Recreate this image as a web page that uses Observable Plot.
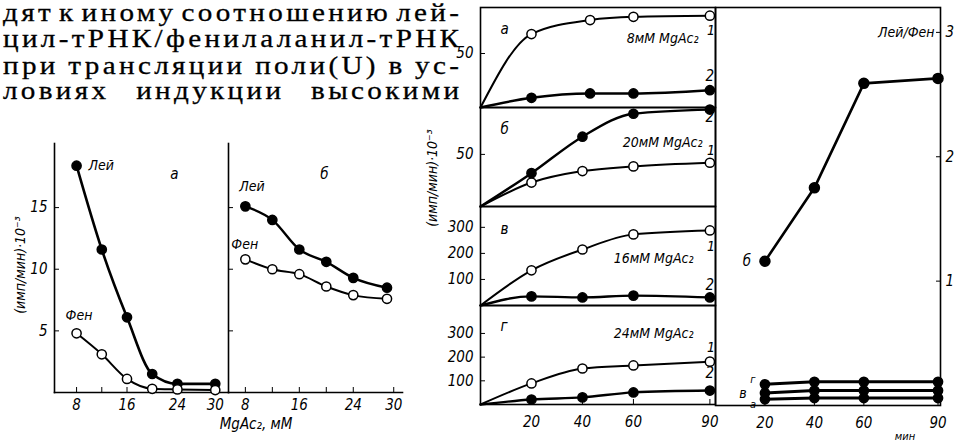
<!DOCTYPE html>
<html><head><meta charset="utf-8">
<script src="https://cdn.jsdelivr.net/npm/d3@7"></script>
<script src="https://cdn.jsdelivr.net/npm/@observablehq/plot@0.6"></script>
<style>
html,body{margin:0;padding:0;background:#fff;}
#fig{position:relative;width:956px;height:441px;overflow:hidden;background:#fff;}
.tl{position:absolute;left:3px;font-family:"Liberation Serif","Times New Roman",serif;font-size:26px;line-height:26px;white-space:nowrap;color:#000;transform-origin:0 0;transform:scaleX(1.12);-webkit-text-stroke:0.3px #000;}
.lab{position:absolute;font-family:"DejaVu Sans Condensed","Liberation Sans",sans-serif;font-style:italic;color:#000;white-space:nowrap;}
</style></head><body>
<div id="fig">
  <div class="tl" id="l0" style="top:0px">дят к иному соотношению лей-</div>
  <div class="tl" id="l1" style="top:26px">цил-тРНК/фенилаланил-тРНК</div>
  <div class="tl" id="l2" style="top:53px">при трансляции поли(U) в ус-</div>
  <div class="tl" id="l3" style="top:78px">ловиях индукции высокими</div>
  <div class="lab" id="ylab1" style="font-size:14px;left:20px;top:265px;transform:translate(-50%,-50%) rotate(-90deg)">(имп/мин)·10⁻³</div>
  <div class="lab" id="xlab1" style="font-size:15px;left:256px;top:424px;transform:translate(-50%,-50%)">MgAc₂, мМ</div>
  <div class="lab" id="ylab2" style="font-size:14px;left:432px;top:178px;transform:translate(-50%,-50%) rotate(-90deg)">(имп/мин)·10⁻³</div>
  <div class="lab" id="xlab3" style="font-size:11px;left:905px;top:436px;transform:translate(-50%,-50%)">мин</div>
</div>
<script>
// ---- Left figure: rate vs Mg concentration ----
const mgA = [8, 12, 16, 20, 24, 30];
const leiA = [18.4, 11.6, 6.1, 1.5, 0.7, 0.7];
const fenA = [4.8, 3.1, 1.1, 0.3, 0.25, 0.2];
const mgB = [8, 12, 16, 20, 24, 29];
const leiB = [15.1, 14.0, 11.6, 10.6, 9.3, 8.5];
const fenB = [10.8, 10.0, 9.6, 8.6, 7.9, 7.6];
const mgTickLabels = [8, 16, 24, 30];
const mgTickMarks = [8, 12, 16, 20, 24, 30];
const rateTicks = [5, 10, 15];

// ---- Center figure: time courses (curve 1 = open, curve 2 = filled) ----
const timeA = [0, 20, 43, 60, 90];
const a1 = [0, 68, 81, 84, 85];
const a2 = [0, 9, 13, 13, 16];
const timeB = [0, 20, 40, 60, 90];
const b1 = [0, 23, 34, 38.5, 42];
const b2 = [0, 32, 67, 89, 93];
const timeV = [0, 20, 40, 60, 90];
const v1 = [0, 135, 215, 273, 288];
const v2 = [0, 35, 31, 38, 31];
const timeG = [0, 20, 40, 60, 90];
const g1 = [0, 89, 152, 165, 181];
const g2 = [0, 21, 30, 51, 59];
const concLabels = ["8мМ MgAc₂", "20мМ MgAc₂", "16мМ MgAc₂", "24мМ MgAc₂"];
const panelLetters = ["а", "б", "в", "г"];
const minuteTicks = [20, 40, 60, 90];

// ---- Right figure: Лей/Фен ratio ----
const ratioMinutes = [20, 40, 60, 90];
const ratioB = [1.16, 1.75, 2.59, 2.63];
const ratioG = [0.17, 0.19, 0.19, 0.19];
const ratioV = [0.10, 0.12, 0.12, 0.12];
const ratioA = [0.05, 0.06, 0.06, 0.06];
const ratioTicks = [1, 2, 3];

const FONT = '"DejaVu Sans Condensed","Liberation Sans",sans-serif';
const fig = document.getElementById("fig");
const rows = (xs, ys) => xs.map((x, i) => ({x, y: ys[i]}));
const fmt = d => String(d);
const baseStyle = {fontFamily: FONT, fontSize: "15px", fontStyle: "italic", color: "#000", background: "transparent", overflow: "visible"};

function mount(plot, frameLeft, frameTop, mL, mT) {
  plot.style.position = "absolute";
  plot.style.left = (frameLeft - mL) + "px";
  plot.style.top = (frameTop - mT) + "px";
  plot.style.maxWidth = "none";
  fig.appendChild(plot);
}

const filled = (d, r = 4.6) => Plot.dot(d, {x: "x", y: "y", r, fill: "#000", stroke: "#000"});
const open = (d, r = 4.6) => Plot.dot(d, {x: "x", y: "y", r, fill: "#fff", stroke: "#000", strokeWidth: 1.5});

// Left panel а
{
  const fl = 54, fr = 228, ft = 143, fb = 392, mL = 40, mT = 10, mB = 34;
  const lei = rows(mgA, leiA), fen = rows(mgA, fenA);
  const p = Plot.plot({
    width: mL + (fr - fl), height: mT + (fb - ft) + mB,
    marginLeft: mL, marginRight: 0, marginTop: mT, marginBottom: mB,
    x: {domain: [4.5, 32.1]}, y: {domain: [0, 20.2]},
    style: baseStyle,
    marks: [
      Plot.frame({anchor: "left", strokeWidth: 1.6}),
      Plot.frame({anchor: "bottom", strokeWidth: 1.6}),
      Plot.axisY({ticks: rateTicks, tickSize: -5, tickPadding: 12, label: null, tickFormat: fmt}),
      Plot.axisX({ticks: mgTickMarks, tickSize: -5, tickPadding: 12, label: null, tickFormat: d => mgTickLabels.includes(d) ? String(d) : ""}),
      Plot.line(lei, {x: "x", y: "y", curve: "monotone-x", strokeWidth: 2.6}),
      Plot.line(fen, {x: "x", y: "y", curve: "monotone-x", strokeWidth: 2}),
      filled(lei), open(fen),
      Plot.text(lei.slice(0, 1), {x: "x", y: "y", text: () => "Лей", dx: 12, textAnchor: "start", fontSize: 14}),
      Plot.text(fen.slice(0, 1), {x: "x", y: "y", text: () => "Фен", dx: -11, dy: -18, textAnchor: "start", fontSize: 14}),
      Plot.text([panelLetters[0]], {frameAnchor: "top-right", text: d => d, dx: -50, dy: 25, fontSize: 15})
    ]
  });
  mount(p, fl, ft, mL, mT);
}
// Left panel б
{
  const fl = 228, fr = 402, ft = 143, fb = 392, mL = 10, mT = 10, mB = 34;
  const lei = rows(mgB, leiB), fen = rows(mgB, fenB);
  const p = Plot.plot({
    width: mL + (fr - fl), height: mT + (fb - ft) + mB,
    marginLeft: mL, marginRight: 0, marginTop: mT, marginBottom: mB,
    x: {domain: [5.5, 31.3]}, y: {domain: [0, 20.2]},
    style: baseStyle,
    marks: [
      Plot.frame({anchor: "left", strokeWidth: 1.6}),
      Plot.frame({anchor: "bottom", strokeWidth: 1.6}),
      Plot.axisY({ticks: rateTicks, tickSize: -5, tickFormat: () => "", label: null}),
      Plot.axisX({ticks: mgTickMarks, tickSize: -5, tickPadding: 12, label: null, tickFormat: d => mgTickLabels.includes(d) ? String(d) : ""}),
      Plot.line(lei, {x: "x", y: "y", curve: "monotone-x", strokeWidth: 2.4}),
      Plot.line(fen, {x: "x", y: "y", curve: "monotone-x", strokeWidth: 2}),
      filled(lei), open(fen),
      Plot.text(lei.slice(0, 1), {x: "x", y: "y", text: () => "Лей", dx: -6, dy: -20, textAnchor: "start", fontSize: 14}),
      Plot.text(fen.slice(0, 1), {x: "x", y: "y", text: () => "Фен", dx: -14, dy: -15, textAnchor: "start", fontSize: 14}),
      Plot.text([panelLetters[1]], {frameAnchor: "top-right", text: d => d, dx: -74, dy: 25, fontSize: 15})
    ]
  });
  mount(p, fl, ft, mL, mT);
}

// Center panels
const centerPanels = [
  {t: timeA, s1: a1, s2: a2, top: 7, bottom: 107, dom: [0, 92.6], ticks: [50], conc: concLabels[0], cdx: -17, cdy: 26, l1: 15, l2: -14, letterDy: 16},
  {t: timeB, s1: b1, s2: b2, top: 107, bottom: 206, dom: [0, 95], ticks: [50], conc: concLabels[1], cdx: -13, cdy: 30, l1: -12, l2: 8, letterDy: 16},
  {t: timeV, s1: v1, s2: v2, top: 206, bottom: 305, dom: [0, 380], ticks: [100, 200, 300], conc: concLabels[2], cdx: -22, cdy: 47, l1: 16, l2: -12, letterDy: 17},
  {t: timeG, s1: g1, s2: g2, top: 305, bottom: 404, dom: [0, 418], ticks: [100, 200, 300], conc: concLabels[3], cdx: -22, cdy: 23, l1: -14, l2: -17, letterDy: 15}
];
centerPanels.forEach((P, k) => {
  const fl = 480, fr = 715, mL = 48, mT = 2, last = k === 3, mB = last ? 30 : 2;
  const c1 = rows(P.t, P.s1), c2 = rows(P.t, P.s2);
  const p = Plot.plot({
    width: mL + (fr - fl) + 2, height: mT + (P.bottom - P.top) + mB,
    marginLeft: mL, marginRight: 2, marginTop: mT, marginBottom: mB,
    x: {domain: [0, 92.2], axis: null}, y: {domain: P.dom, axis: null},
    style: baseStyle,
    marks: [
      Plot.frame({strokeWidth: 1.6}),
      Plot.axisY({ticks: P.ticks, tickSize: -5, tickPadding: 12, label: null, tickFormat: fmt}),
      last ? Plot.axisX({ticks: minuteTicks, tickSize: -5, tickPadding: 17, label: null, tickFormat: fmt}) : null,
      Plot.line(c1, {x: "x", y: "y", curve: "monotone-x", strokeWidth: 2}),
      Plot.line(c2, {x: "x", y: "y", curve: "monotone-x", strokeWidth: 2.4}),
      open(c1.slice(1)), filled(c2.slice(1)),
      Plot.text(c1.slice(-1), {x: "x", y: "y", text: () => "1", dx: 1, dy: P.l1, fontSize: 14}),
      Plot.text(c2.slice(-1), {x: "x", y: "y", text: () => "2", dx: 0, dy: P.l2, fontSize: 15}),
      Plot.text([P.conc], {frameAnchor: "top-right", text: d => d, dx: P.cdx, dy: P.cdy, textAnchor: "end", fontSize: 14}),
      Plot.text([panelLetters[k]], {frameAnchor: "top-left", text: d => d, dx: 20, dy: P.letterDy, fontSize: 15})
    ]
  });
  mount(p, fl, P.top, mL, mT);
});

// Right panel
{
  const fl = 715, fr = 940, ft = 7, fb = 405, mL = 2, mR = 16, mT = 2, mB = 30;
  const rb = rows(ratioMinutes, ratioB), rg = rows(ratioMinutes, ratioG), rv = rows(ratioMinutes, ratioV), ra = rows(ratioMinutes, ratioA);
  const p = Plot.plot({
    width: mL + (fr - fl) + mR, height: mT + (fb - ft) + mB,
    marginLeft: mL, marginRight: mR, marginTop: mT, marginBottom: mB,
    x: {domain: [0, 91]}, y: {domain: [0, 3.2]},
    style: baseStyle,
    marks: [
      Plot.frame({strokeWidth: 1.6}),
      Plot.axisY({anchor: "right", ticks: ratioTicks, tickSize: -5, tickPadding: 10, label: null, tickFormat: fmt}),
      Plot.axisX({ticks: minuteTicks, tickSize: -5, tickPadding: 17, label: null, tickFormat: fmt}),
      Plot.line(rb, {x: "x", y: "y", strokeWidth: 2.6}),
      Plot.line(rg, {x: "x", y: "y", strokeWidth: 3}),
      Plot.line(rv, {x: "x", y: "y", strokeWidth: 3}),
      Plot.line(ra, {x: "x", y: "y", strokeWidth: 3}),
      filled(rb, 5), filled(rg, 4.6), filled(rv, 4.6), filled(ra, 4.6),
      Plot.text(rb.slice(0, 1), {x: "x", y: "y", text: () => "б", dx: -18, dy: 0, fontSize: 15}),
      Plot.text(rv.slice(0, 1), {x: "x", y: "y", text: () => "в", dx: -22, dy: 0, fontSize: 14}),
      Plot.text(rg.slice(0, 1), {x: "x", y: "y", text: () => "г", dx: -12, dy: -5, fontSize: 11}),
      Plot.text(ra.slice(0, 1), {x: "x", y: "y", text: () => "а", dx: -12, dy: 5, fontSize: 11}),
      Plot.text(["Лей/Фен"], {frameAnchor: "top-right", text: d => d, dx: -6, dy: 20, textAnchor: "end", fontSize: 14})
    ]
  });
  mount(p, fl, ft, mL, mT);
}

// Justify the paragraph lines to the column width (before horizontal scale)
(function justify() {
  const S = 1.12, W = 456 / S;
  const lines = [0, 1, 2, 3].map(i => document.getElementById("l" + i));
  const ref = lines[1];
  const n = ref.textContent.length;
  const natural = ref.getBoundingClientRect().width / S;
  const ls = Math.max(0, (W - natural) / (n - 1));
  lines.forEach(el => {
    el.style.letterSpacing = ls + "px";
    const txt = el.textContent;
    const spaces = (txt.match(/ /g) || []).length;
    const w = el.getBoundingClientRect().width / S - ls;
    if (spaces > 0) el.style.wordSpacing = ((W - w) / spaces) + "px";
  });
})();
</script>
</body></html>
